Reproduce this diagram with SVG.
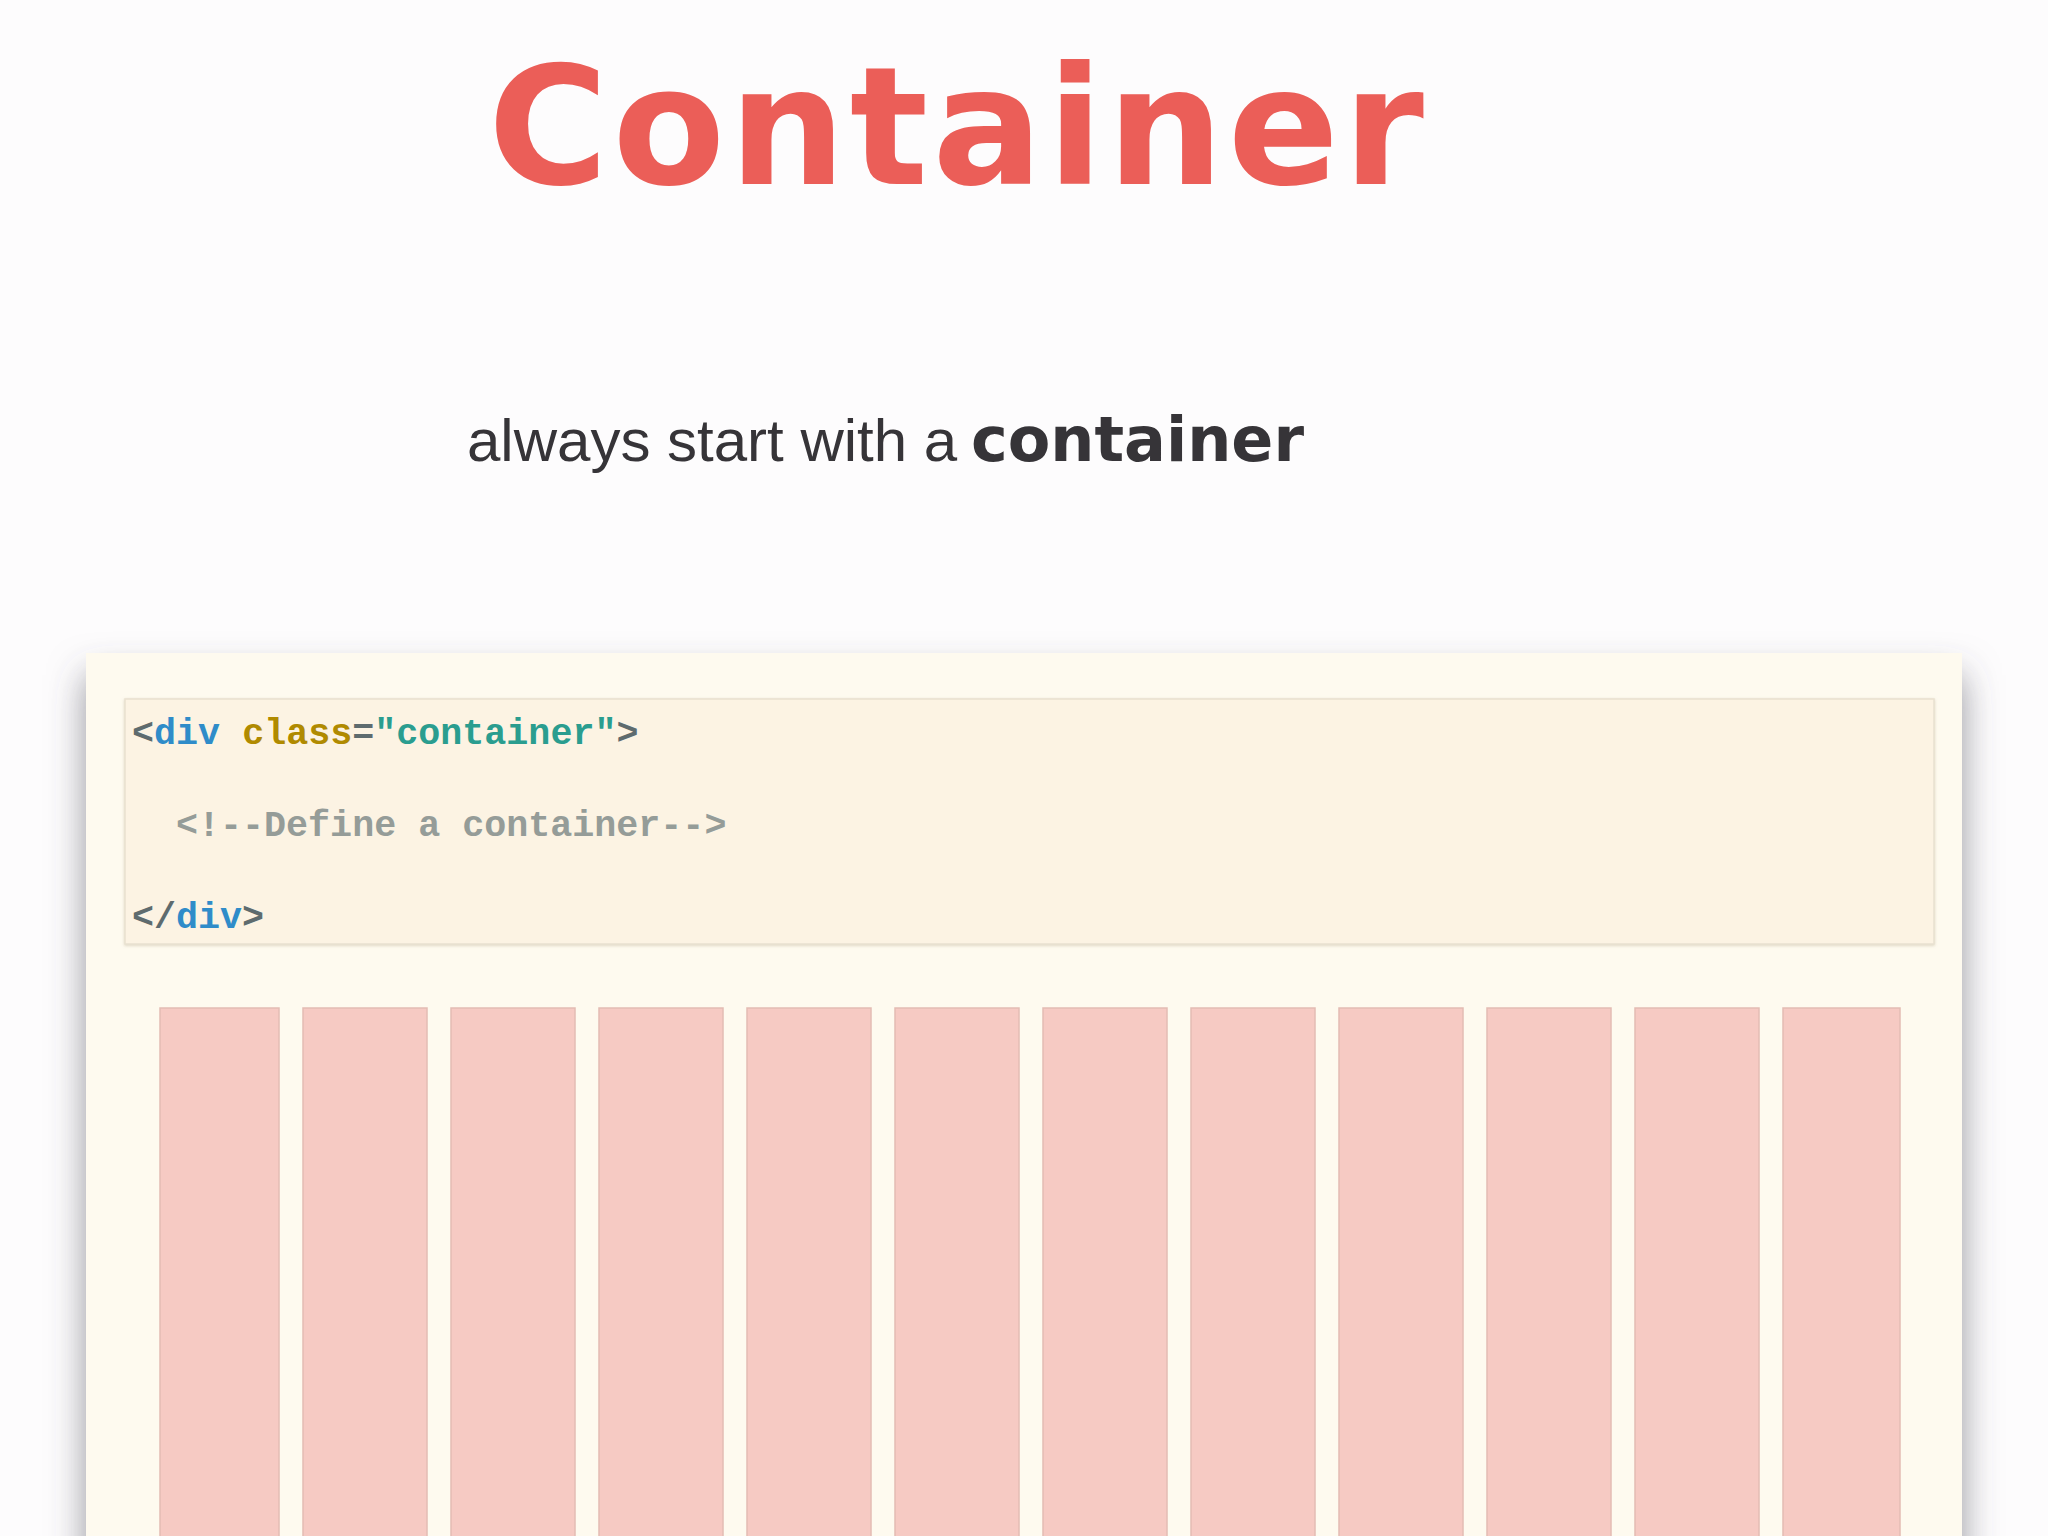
<svg xmlns="http://www.w3.org/2000/svg" width="2048" height="1536" viewBox="0 0 2048 1536">
  <defs>
    <filter id="panelShadow" x="-10%" y="-10%" width="120%" height="130%">
      <feDropShadow dx="0" dy="22" stdDeviation="18" flood-color="#50505c" flood-opacity="0.6"/>
    </filter>
    <filter id="codeShadow" x="-2%" y="-5%" width="104%" height="115%">
      <feDropShadow dx="0" dy="1" stdDeviation="1.5" flood-color="#a09070" flood-opacity="0.35"/>
    </filter>
  </defs>
  <style>
    .title { font-family: "DejaVu Sans", "Noto Sans", sans-serif; font-weight: bold; font-size: 164px; letter-spacing: 4px; fill: #eb5e58; }
    .sub { font-family: "Liberation Sans", Arial, sans-serif; font-size: 60px; fill: #363438; }
    .subb { font-family: "DejaVu Sans", sans-serif; font-weight: bold; font-size: 62px; fill: #363438; }
    .code { font-family: "Liberation Mono", "DejaVu Sans Mono", monospace; font-size: 36.7px; font-weight: bold; white-space: pre; }
    .punc { fill: #5e6b6e; }
    .tag { fill: #2f8cc9; }
    .attr { fill: #b08a00; }
    .str { fill: #2a9d8f; }
    .cmt { fill: #959c98; }
    .col { fill: #f6cac3; stroke: #e3bcb4; stroke-width: 1.5; }
  </style>
  <rect x="0" y="0" width="2048" height="1536" fill="#fdfcfd"/>

  <g id="title">
    <text class="title" x="958" y="184" text-anchor="middle">Container</text>
  </g>

  <g id="subtitle">
    <text class="sub" x="467" y="461">always start with a <tspan class="subb" x="971">container</tspan></text>
  </g>

  <g id="panel">
    <rect x="86" y="653" width="1876" height="920" fill="#fefaef" filter="url(#panelShadow)"/>
  </g>

  <g id="code-block">
    <rect x="125" y="699" width="1809" height="245" fill="#fcf3e3" stroke="#e9e1d0" stroke-width="1.5" filter="url(#codeShadow)"/>
    <text class="code" x="132" y="744"><tspan class="punc">&lt;</tspan><tspan class="tag">div</tspan> <tspan class="attr">class</tspan><tspan class="punc">=</tspan><tspan class="str">"container"</tspan><tspan class="punc">&gt;</tspan></text>
    <text class="code cmt" x="176" y="836">&lt;!--Define a container--&gt;</text>
    <text class="code" x="132" y="928"><tspan class="punc">&lt;/</tspan><tspan class="tag">div</tspan><tspan class="punc">&gt;</tspan></text>
  </g>

  <g id="grid-columns">
    <rect id="col1" class="col" x="160" y="1008" width="119" height="540"/>
    <rect id="col2" class="col" x="303" y="1008" width="124" height="540"/>
    <rect id="col3" class="col" x="451" y="1008" width="124" height="540"/>
    <rect id="col4" class="col" x="599" y="1008" width="124" height="540"/>
    <rect id="col5" class="col" x="747" y="1008" width="124" height="540"/>
    <rect id="col6" class="col" x="895" y="1008" width="124" height="540"/>
    <rect id="col7" class="col" x="1043" y="1008" width="124" height="540"/>
    <rect id="col8" class="col" x="1191" y="1008" width="124" height="540"/>
    <rect id="col9" class="col" x="1339" y="1008" width="124" height="540"/>
    <rect id="col10" class="col" x="1487" y="1008" width="124" height="540"/>
    <rect id="col11" class="col" x="1635" y="1008" width="124" height="540"/>
    <rect id="col12" class="col" x="1783" y="1008" width="117" height="540"/>
  </g>

  <g id="connectors"></g>
</svg>
